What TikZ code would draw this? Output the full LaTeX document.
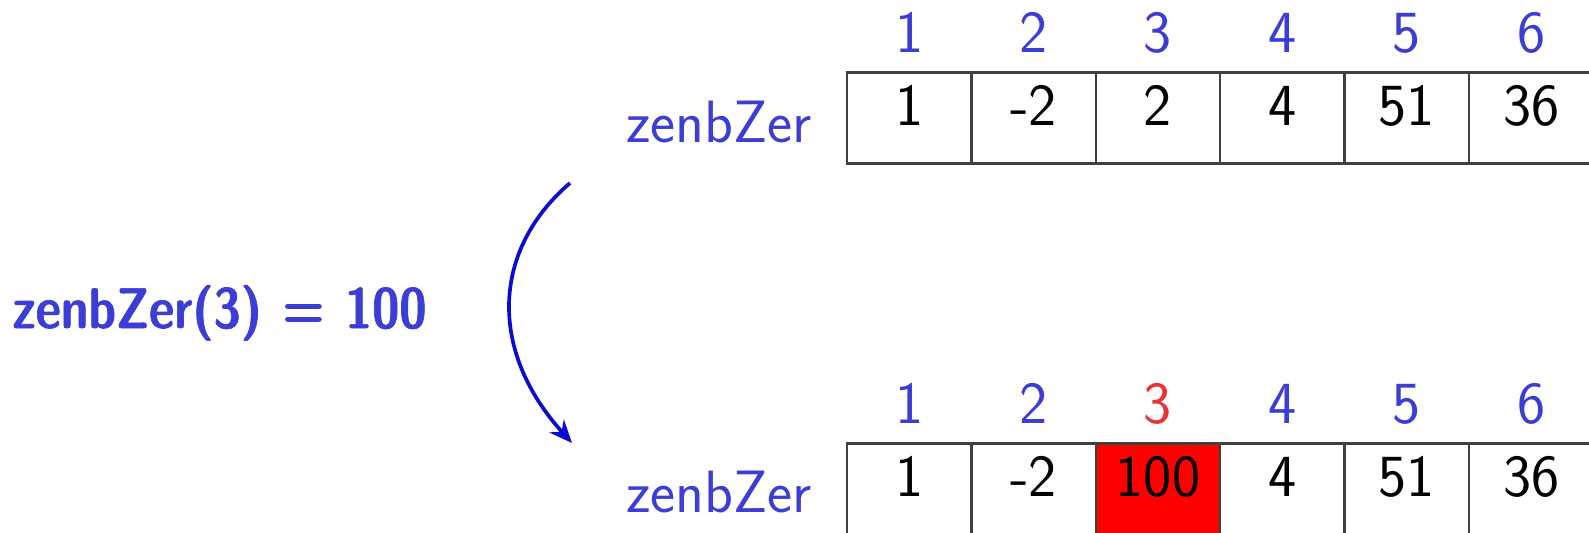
\documentclass[tikz,border=0pt]{standalone}
\usepackage{fontspec}
\newfontfamily\demicond[FakeBold=1.2]{lmsansdemicond10-regular.otf}
\usetikzlibrary{arrows.meta}
\definecolor{idxblue}{RGB}{60,60,215}
\definecolor{arrblue}{RGB}{10,10,210}
\definecolor{cellred}{RGB}{255,0,0}
\definecolor{idxred}{RGB}{235,50,50}
\begin{document}
\begin{tikzpicture}[x=0.02cm,y=-0.02cm,
  every node/.style={font=\sffamily\fontsize{34}{40}\selectfont},
  cellbox/.style={draw=black!75,line width=1.4pt,minimum width=2.488cm,minimum height=1.812cm,inner sep=0pt,text height=0.85em,text depth=0pt,anchor=center},
  idx/.style={text=idxblue,anchor=base,inner sep=0pt},
  arrlabel/.style={text=idxblue,anchor=base east,inner sep=0pt},
  conn/.style={draw=arrblue,line width=2.1pt,-{Stealth[length=13pt,width=11pt]}}
]
\useasboundingbox (0,0) rectangle (1589,532);
\clip (0,0) rectangle (1589,532);
% top array
\foreach \v [count=\i] in {1,-2,2,4,51,36}{
  \node[cellbox] (t\i) at ({847+124.4*(\i-0.5)},118) {\v};
  \node[idx] (ti\i) at ({847+124.4*(\i-0.5)},52.5) {\i};
}
\node[cellbox] (t7) at ({847+124.4*6.5},118) {};
\node[arrlabel] (tl) at (812,142) {zenbZer};
% bottom array
\foreach \v [count=\i] in {1,-2,100,4,51,36}{
  \ifnum\i=3
    \node[cellbox,fill=cellred] (b\i) at ({847+124.4*(\i-0.5)},488.6) {\v};
    \node[idx,text=idxred] (bi\i) at ({847+124.4*(\i-0.5)},423) {\i};
  \else
    \node[cellbox] (b\i) at ({847+124.4*(\i-0.5)},488.6) {\v};
    \node[idx] (bi\i) at ({847+124.4*(\i-0.5)},423) {\i};
  \fi
}
\node[cellbox] (b7) at ({847+124.4*6.5},488.6) {};
\node[arrlabel] (bl) at (812,512.5) {zenbZer};
% formula
\node[text=idxblue,anchor=base west,inner sep=0pt,font=\demicond\fontsize{32.5}{38}\selectfont] (f) at (12,328) {zenbZer(3)\hspace{0.36em}=\hspace{0.36em}100};
% arrow
\coordinate (as) at (570,183);
\coordinate (ae) at (572,443);
\draw[conn] (as) .. controls (492,250) and (488,350) .. (ae);
\end{tikzpicture}
\end{document}
